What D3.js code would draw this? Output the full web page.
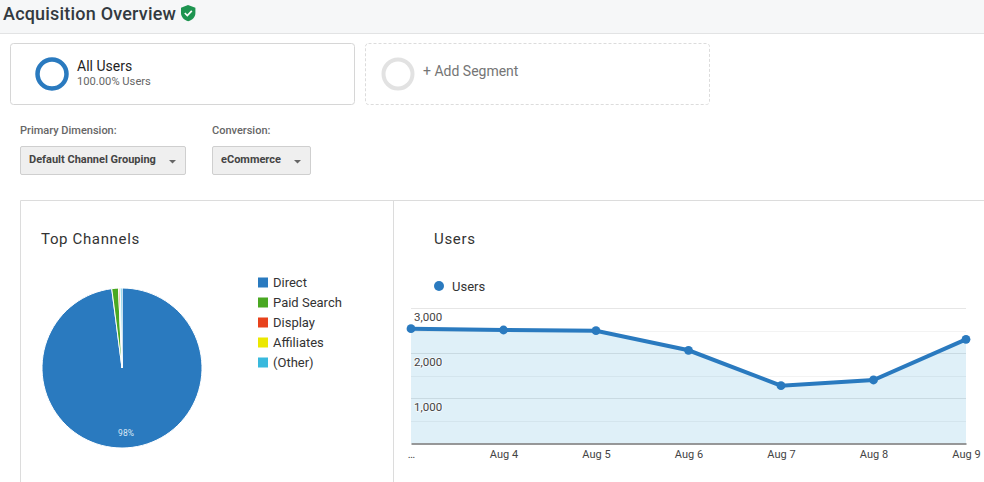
<!DOCTYPE html>
<html><head><meta charset="utf-8">
<script src="https://cdn.jsdelivr.net/npm/d3@7/dist/d3.min.js"></script>
<style>
html,body{margin:0;padding:0;background:#fff;overflow:hidden}
svg{display:block}
text{font-family:Roboto,sans-serif}
</style></head><body>
<svg id="c" width="984" height="482"></svg>
<script>
const channels = ["Direct","Paid Search","Display","Affiliates","(Other)"];
const channelShares = [97.95,1.35,0.3,0.05,0.35];
const channelColors = ["#2a7abf","#4aa822","#e8421c","#ebe800","#39b9dd"];
const dayLabels = ["…","Aug 4","Aug 5","Aug 6","Aug 7","Aug 8","Aug 9"];
const users = [2547,2518,2502,2067,1280,1407,2311];
const yMajorTicks = [1000,2000,3000];
const yGridTicks = [500,1000,1500,2000,2500,3000];

const svg = d3.select("#c");
const txt=(x,y,s,size,fill,weight,extra)=>{
  const t=svg.append("text").attr("x",x).attr("y",y).attr("font-size",size).attr("fill",fill).attr("font-weight",weight||400).text(s);
  if(extra) t.attr("letter-spacing",extra); return t;};

// header
svg.append("rect").attr("width",984).attr("height",33).attr("fill","#f6f7f8");
svg.append("line").attr("x1",0).attr("x2",984).attr("y1",33.5).attr("y2",33.5).attr("stroke","#e2e3e4");
txt(3,20,"Acquisition Overview",18,"#333a40",500,0.2);
const sh=svg.append("g").attr("transform","translate(181,5)");
sh.append("path").attr("d","M7 0 L14.4 2.8 V8 C14.4 12 11.4 15 7.2 16.2 C3 15 0 12 0 8 V2.8 Z").attr("fill","#1e9450");
sh.append("path").attr("d","M3.8 8 L6.3 10.5 L10.8 5.8").attr("fill","none").attr("stroke","#fff").attr("stroke-width",1.7);

// segments
svg.append("rect").attr("x",10.5).attr("y",43.5).attr("width",344).attr("height",61).attr("rx",3).attr("fill","#fff").attr("stroke","#d6d6d6");
svg.append("circle").attr("cx",52).attr("cy",74).attr("r",14.5).attr("fill","none").attr("stroke","#2a7abf").attr("stroke-width",4.5);
txt(77,71,"All Users",14,"#1f1f1f",400);
txt(77,85,"100.00% Users",11.2,"#666",400);
svg.append("rect").attr("x",365.5).attr("y",43.5).attr("width",344).attr("height",61).attr("rx",3).attr("fill","#fff").attr("stroke","#dcdcdc").attr("stroke-dasharray","3 2");
svg.append("circle").attr("cx",398).attr("cy",74).attr("r",14.5).attr("fill","none").attr("stroke","#e2e2e2").attr("stroke-width",4);
txt(423,76,"+ Add Segment",14,"#757575",400);

// selectors
txt(20,134,"Primary Dimension:",11,"#666",500);
txt(212,134,"Conversion:",11,"#666",500);
[[20,166,"Default Channel Grouping"],[212,99,"eCommerce"]].forEach(([x,w,s])=>{
  svg.append("rect").attr("x",x+.5).attr("y",146.5).attr("width",w-1).attr("height",28).attr("rx",1.5).attr("fill","#efefef").attr("stroke","#cfcfcf");
  txt(x+9,163,s,11,"#444",700);
  svg.append("path").attr("d",`M${x+w-17} 160 h7 l-3.5 3.5 z`).attr("fill","#666");
});

// panels
svg.append("path").attr("d","M20.5 482 V200.5 H984 M393.5 200.5 V482").attr("fill","none").attr("stroke","#dcdcdc");
txt(41,244,"Top Channels",15,"#333",400,0.65);
txt(434,244,"Users",15,"#333",400,0.7);

// pie
const pieG=svg.append("g").attr("transform","translate(122,368)");
const arc=d3.arc().innerRadius(0).outerRadius(80);
const pie=d3.pie().sort(null)(channelShares);
pieG.selectAll("path").data(pie).join("path").attr("d",arc)
  .attr("fill",(d,i)=>channelColors[i]).attr("stroke","#fff").attr("stroke-width",1);
pieG.append("text").attr("x",4).attr("y",68).attr("text-anchor","middle").attr("font-size",8.5).attr("fill","#d9e8f5").text(Math.round(channelShares[0])+"%");

// legend
const leg=d3.scalePoint().domain(channels).range([282,362]);
channels.forEach((c,i)=>{
  svg.append("rect").attr("x",258).attr("y",leg(c)-4.5).attr("width",10).attr("height",10).attr("fill",channelColors[i]);
  txt(273,leg(c)+5,c,13,"#333",400);
});

// line chart
const x=d3.scalePoint().domain(dayLabels).range([411,966]);
const y=d3.scaleLinear().domain([0,3000]).range([443.3,308.3]);
const gridG=svg.append("g");
gridG.selectAll("line").data(yGridTicks).join("line")
  .attr("x1",411).attr("x2",966).attr("y1",d=>Math.round(y(d))+.5).attr("y2",d=>Math.round(y(d))+.5)
  .attr("stroke",d=>d%1000===0?"#e6e6e6":"#f3f3f3");
const area=d3.area().x((d,i)=>x(dayLabels[i])).y0(y(0)).y1(d=>y(d));
svg.append("path").datum(users).attr("d",area).attr("fill","#058dc7").attr("fill-opacity",.13);
const yAxis=svg.append("g").attr("transform","translate(411,0)")
  .call(d3.axisRight(y).tickValues(yMajorTicks).tickSize(0).tickPadding(3).tickFormat(d3.format(",")));
yAxis.select(".domain").remove();
yAxis.selectAll("text").attr("font-family","Liberation Sans, Arial, sans-serif").attr("font-size",11.5).attr("fill","#444").attr("dy","1.05em")
  .attr("stroke","#fff").attr("stroke-width",2).attr("stroke-opacity",.6).attr("paint-order","stroke");
const xAxis=svg.append("g").attr("transform","translate(0,443.5)")
  .call(d3.axisBottom(x).tickSize(0).tickPadding(7));
xAxis.select(".domain").attr("stroke","#333").attr("stroke-width",1);
xAxis.selectAll("text").attr("font-family","Liberation Sans, Arial, sans-serif").attr("font-size",11).attr("fill","#444");
const line=d3.line().x((d,i)=>x(dayLabels[i])).y(d=>y(d));
svg.append("path").datum(users).attr("d",line).attr("fill","none").attr("stroke","#2a7abf").attr("stroke-width",4);
svg.selectAll("circle.pt").data(users).join("circle").attr("class","pt")
  .attr("cx",(d,i)=>x(dayLabels[i])).attr("cy",d=>y(d)).attr("r",4.4).attr("fill","#2a7abf");
svg.append("circle").attr("cx",439).attr("cy",286).attr("r",5).attr("fill","#2a7abf");
txt(452,291,"Users",13,"#333",400);
</script></body></html>
